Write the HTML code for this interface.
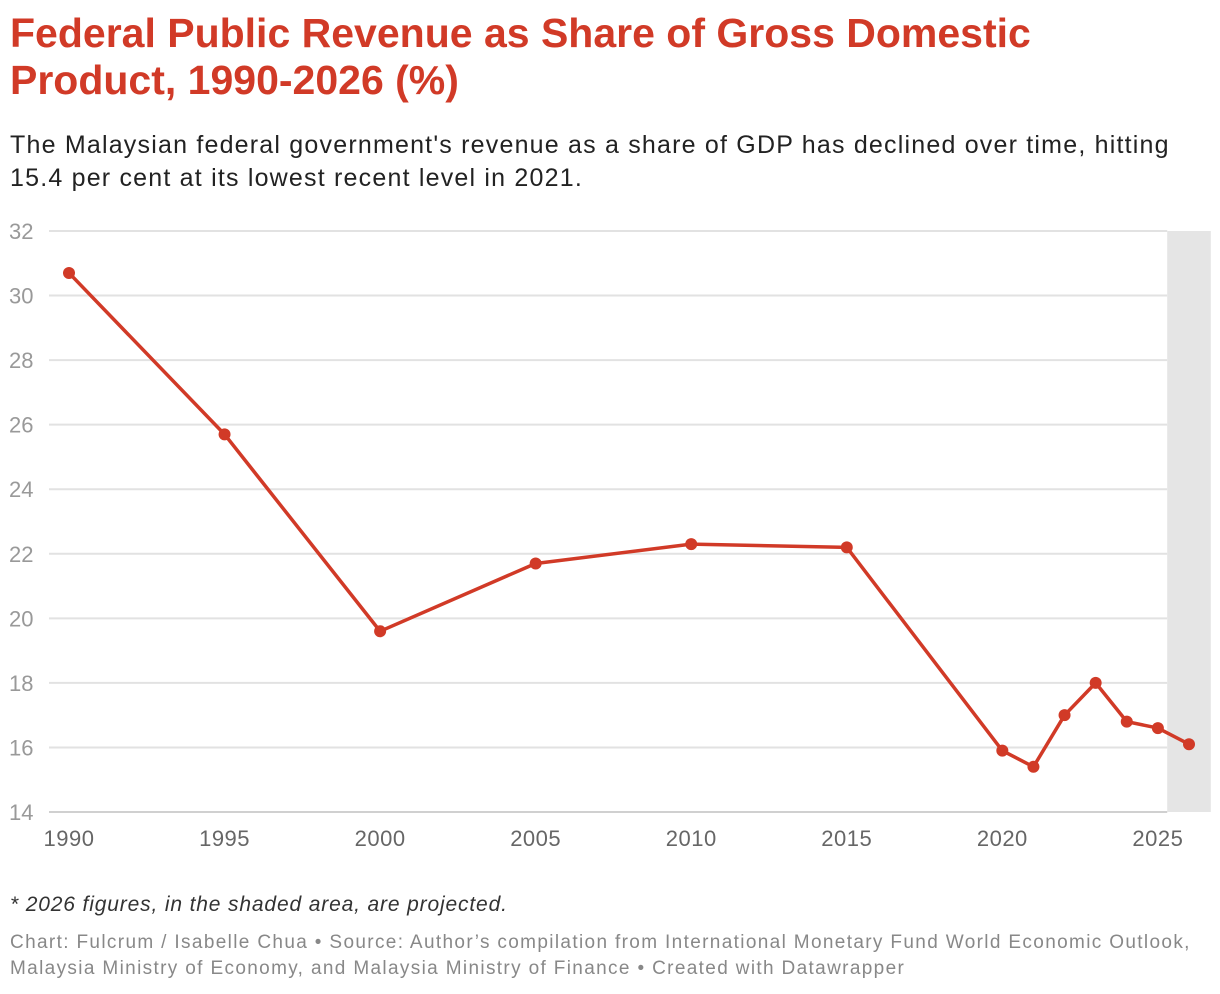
<!DOCTYPE html>
<html><head><meta charset="utf-8"><style>
body{margin:0;background:#fff;width:1220px;height:994px;overflow:hidden;font-family:"Liberation Sans",sans-serif}
h1{position:absolute;left:10px;top:10px;margin:0;font-size:41px;line-height:47px;color:#d13a27;font-weight:bold;letter-spacing:0px;white-space:nowrap}
.sub{position:absolute;left:10px;top:129px;font-size:25px;line-height:33px;color:#222;letter-spacing:1.2px;white-space:nowrap}
.note{position:absolute;left:10px;top:893px;font-size:21px;font-style:italic;color:#333;letter-spacing:0.85px}
.src{position:absolute;left:10px;top:930px;font-size:19px;line-height:26px;color:#888;letter-spacing:1.35px;white-space:nowrap}
svg{position:absolute;left:0;top:0}
</style></head><body>
<h1>Federal Public Revenue as Share of Gross Domestic<br>Product, 1990-2026 (%)</h1>
<div class="sub">The Malaysian federal government's revenue as a share of GDP has declined over time, hitting<br>15.4 per cent at its lowest recent level in 2021.</div>
<svg id="chart" width="1220" height="994"></svg>
<div class="note">* 2026 figures, in the shaded area, are projected.</div>
<div class="src">Chart: Fulcrum / Isabelle Chua • Source: Author’s compilation from International Monetary Fund World Economic Outlook,<br>Malaysia Ministry of Economy, and Malaysia Ministry of Finance • Created with Datawrapper</div>
<script>
const years=[1990,1995,2000,2005,2010,2015,2020,2021,2022,2023,2024,2025,2026];
const values=[30.7,25.7,19.6,21.7,22.3,22.2,15.9,15.4,17.0,18.0,16.8,16.6,16.1];
const yTicks=[14,16,18,20,22,24,26,28,30,32];
const xTicks=[1990,1995,2000,2005,2010,2015,2020,2025];
const projStart=2025.3, projEnd=2026.7;
const NS="http://www.w3.org/2000/svg";
const svg=document.getElementById('chart');
const x=v=>69+(v-1990)*(1120/36);
const y=v=>812-(v-14)*(581/18);
function mk(t,a){const e=document.createElementNS(NS,t);for(const k in a)e.setAttribute(k,a[k]);svg.appendChild(e);return e;}
const sh=mk('rect',{x:x(projStart),y:y(32),width:x(projEnd)-x(projStart),height:y(14)-y(32),fill:'#e5e5e5'});


yTicks.forEach(t=>{
 const l=mk('line',{x1:49,x2:x(projStart),y1:y(t),y2:y(t),stroke:t===14?'#d0d0d0':'#e2e2e2','stroke-width':2});
 
 
 const tx=mk('text',{x:9,y:y(t)+8,'font-size':22,fill:'#999','font-family':'Liberation Sans, sans-serif'});
 tx.textContent=t;
 
 
});
xTicks.forEach(t=>{
 const tx=mk('text',{x:x(t),y:846,'font-size':22,fill:'#666','text-anchor':'middle','letter-spacing':'0.5','font-family':'Liberation Sans, sans-serif'});
 tx.textContent=t;
 
 
});
const p=mk('polyline',{points:years.map((yr,i)=>x(yr)+','+y(values[i])).join(' '),fill:'none',stroke:'#d13a27','stroke-width':3.5,'stroke-linejoin':'round'});


years.forEach((yr,i)=>{
 const c=mk('circle',{cx:x(yr),cy:y(values[i]),r:6,fill:'#d13a27'});
 
 
});
</script>
</body></html>
